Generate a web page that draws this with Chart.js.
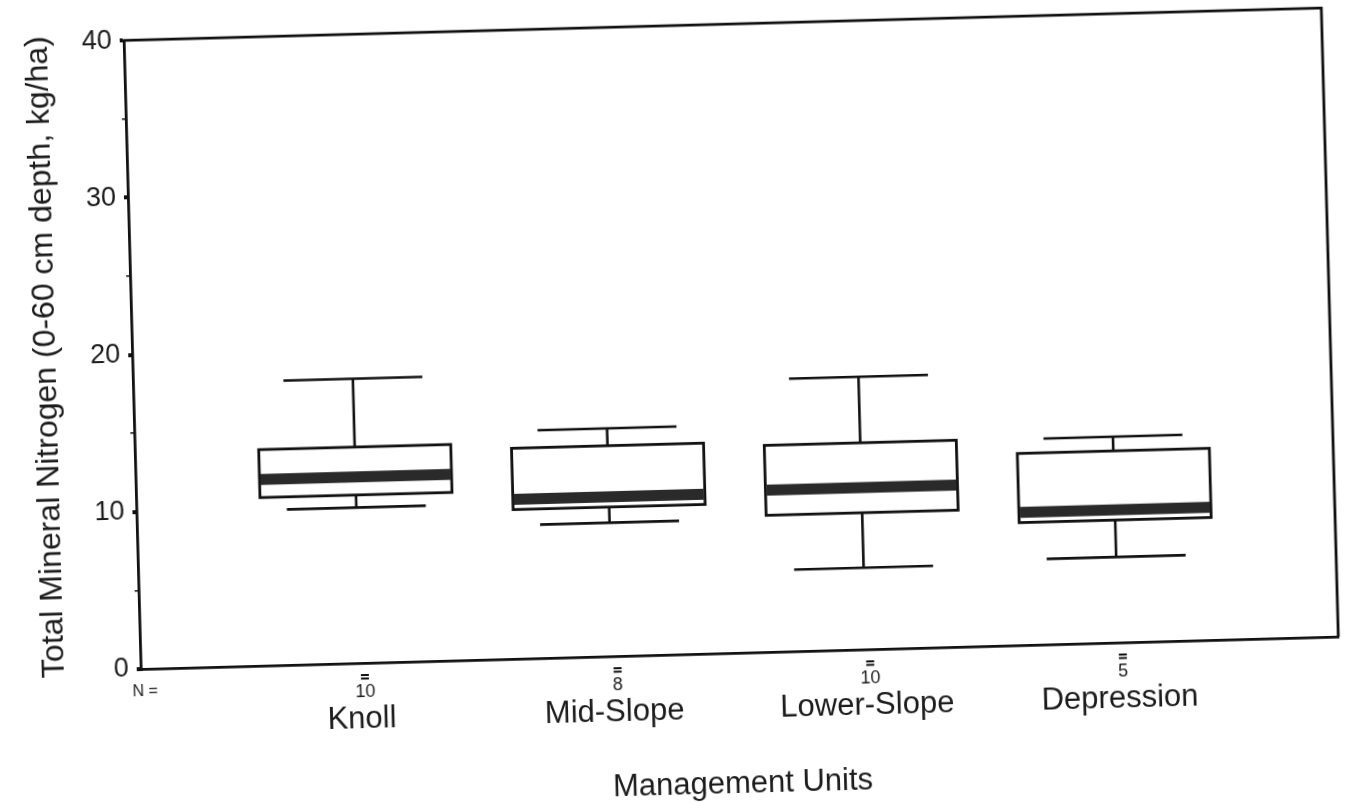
<!DOCTYPE html>
<html>
<head>
<meta charset="utf-8">
<title>Total Mineral Nitrogen by Management Unit</title>
<script src="https://cdn.jsdelivr.net/npm/chart.js@4.4.1/dist/chart.umd.min.js"></script>
<style>
  html, body { margin: 0; padding: 0; background: #fff; overflow: hidden; }
  /* the source is a slightly tilted scan, so the whole figure is turned a little */
  #wrap { width: 1348px; height: 803px; transform: rotate(-1.55deg); transform-origin: 731px 338px; }
</style>
</head>
<body>
<div id="wrap"><canvas id="plot" width="1348" height="803"></canvas></div>
<script>
// data
const categories = ['Knoll', 'Mid-Slope', 'Lower-Slope', 'Depression'];
const nCounts = [10, 8, 10, 5];
const whiskerLow = [9.9, 8.5, 5.2, 5.45];
const q1 = [10.7, 9.5, 8.7, 7.8];
const median = [11.85, 10.15, 10.3, 8.45];
const q3 = [13.75, 13.4, 13.15, 12.2];
const whiskerHigh = [18.1, 14.5, 17.35, 13.1];
const yTicks = [0, 10, 20, 30, 40];

const ink = '#111';
const textInk = '#1c1c1c';
Chart.defaults.font.family = "'Liberation Sans', Arial, Helvetica, sans-serif";

// box-and-whisker drawing on top of the chart's own scales
const boxPlugin = {
  id: 'boxes',
  afterDatasetsDraw(chart){
    const { ctx, chartArea: area } = chart;
    const xs = chart.scales.x, ys = chart.scales.y;
    ctx.save();

    // close the frame (top and right)
    ctx.strokeStyle = ink;
    ctx.lineWidth = 2.8;
    ctx.beginPath();
    ctx.moveTo(area.left, area.top);
    ctx.lineTo(area.right, area.top);
    ctx.lineTo(area.right, area.bottom);
    ctx.stroke();

    categories.forEach((c, i) => {
      const v = i + 1;
      const cx = xs.getPixelForValue(v);
      const bl = xs.getPixelForValue(v - 0.38), br = xs.getPixelForValue(v + 0.38);
      const cl = xs.getPixelForValue(v - 0.275), cr = xs.getPixelForValue(v + 0.275);
      const yLo = ys.getPixelForValue(whiskerLow[i]);
      const yHi = ys.getPixelForValue(whiskerHigh[i]);
      const y1 = ys.getPixelForValue(q1[i]);
      const y3 = ys.getPixelForValue(q3[i]);
      const ym = ys.getPixelForValue(median[i]);

      // whiskers
      ctx.strokeStyle = ink;
      ctx.lineWidth = 2.6;
      ctx.beginPath();
      ctx.moveTo(cx, y3); ctx.lineTo(cx, yHi);
      ctx.moveTo(cl, yHi); ctx.lineTo(cr, yHi);
      ctx.moveTo(cx, y1); ctx.lineTo(cx, yLo);
      ctx.moveTo(cl, yLo); ctx.lineTo(cr, yLo);
      ctx.stroke();

      // box
      ctx.fillStyle = '#fff';
      ctx.fillRect(bl, y3, br - bl, y1 - y3);
      ctx.lineWidth = 2.8;
      ctx.strokeRect(bl, y3, br - bl, y1 - y3);

      // thick median band
      ctx.fillStyle = '#2a2a2a';
      ctx.fillRect(bl + 1, ym - 5.5, br - bl - 2, 11);

      // N row under the axis
      const nx = cx + 4;
      ctx.fillStyle = ink;
      ctx.fillRect(nx - 4, area.bottom + 11, 8, 2);
      ctx.fillRect(nx - 4, area.bottom + 14.5, 8, 2);
      ctx.fillStyle = textInk;
      ctx.font = "18px 'Liberation Sans', Arial, sans-serif";
      ctx.textAlign = 'center';
      ctx.textBaseline = 'middle';
      ctx.fillText(String(nCounts[i]), nx, area.bottom + 29);
    });

    ctx.font = "16px 'Liberation Sans', Arial, sans-serif";
    ctx.textAlign = 'center';
    ctx.textBaseline = 'middle';
    ctx.fillText('N =', area.left + 4, area.bottom + 23);
    ctx.restore();
  }
};

new Chart(document.getElementById('plot'), {
  type: 'scatter',
  data: { datasets: [{ data: [], showLine: false }] },
  options: {
    responsive: false,
    animation: false,
    devicePixelRatio: 1,
    layout: { padding: { left: 0, right: 18, top: 24, bottom: 0 } },
    plugins: { legend: { display: false }, tooltip: { enabled: false } },
    scales: {
      x: {
        type: 'linear',
        min: 0.13,
        max: 4.87,
        afterBuildTicks: s => { s.ticks = categories.map((c, i) => ({ value: i + 1 })); },
        afterFit: s => { s.height = 150; },
        grid: { display: false, drawTicks: false },
        border: { color: ink, width: 2.8 },
        ticks: {
          padding: 38,
          color: textInk,
          font: { size: 31 },
          callback: v => categories[Math.round(v) - 1]
        },
        title: {
          display: true,
          text: 'Management Units',
          color: textInk,
          font: { size: 31 },
          padding: { top: 0, bottom: 0 }
        }
      },
      y: {
        min: 0,
        max: 40,
        afterFit: s => { s.width = 132; },
        afterBuildTicks: s => {
          // labelled ticks every 10, small marks every 5
          const t = [];
          for (let k = 0; k < yTicks.length; k++) {
            t.push({ value: yTicks[k] });
            if (k < yTicks.length - 1) t.push({ value: (yTicks[k] + yTicks[k + 1]) / 2 });
          }
          s.ticks = t;
        },
        grid: {
          drawOnChartArea: false,
          tickLength: 4,
          color: ink,
          lineWidth: c => (c.tick && yTicks.includes(c.tick.value)) ? 4 : 1.5
        },
        border: { color: ink, width: 2.8 },
        ticks: {
          padding: 8,
          color: textInk,
          font: { size: 27 },
          callback: v => yTicks.includes(v) ? String(v) : ''
        },
        title: {
          display: true,
          text: 'Total Mineral Nitrogen (0-60 cm depth, kg/ha)',
          color: textInk,
          font: { size: 32 },
          padding: { top: 27, bottom: 0 }
        }
      }
    }
  },
  plugins: [boxPlugin]
});
</script>
</body>
</html>
